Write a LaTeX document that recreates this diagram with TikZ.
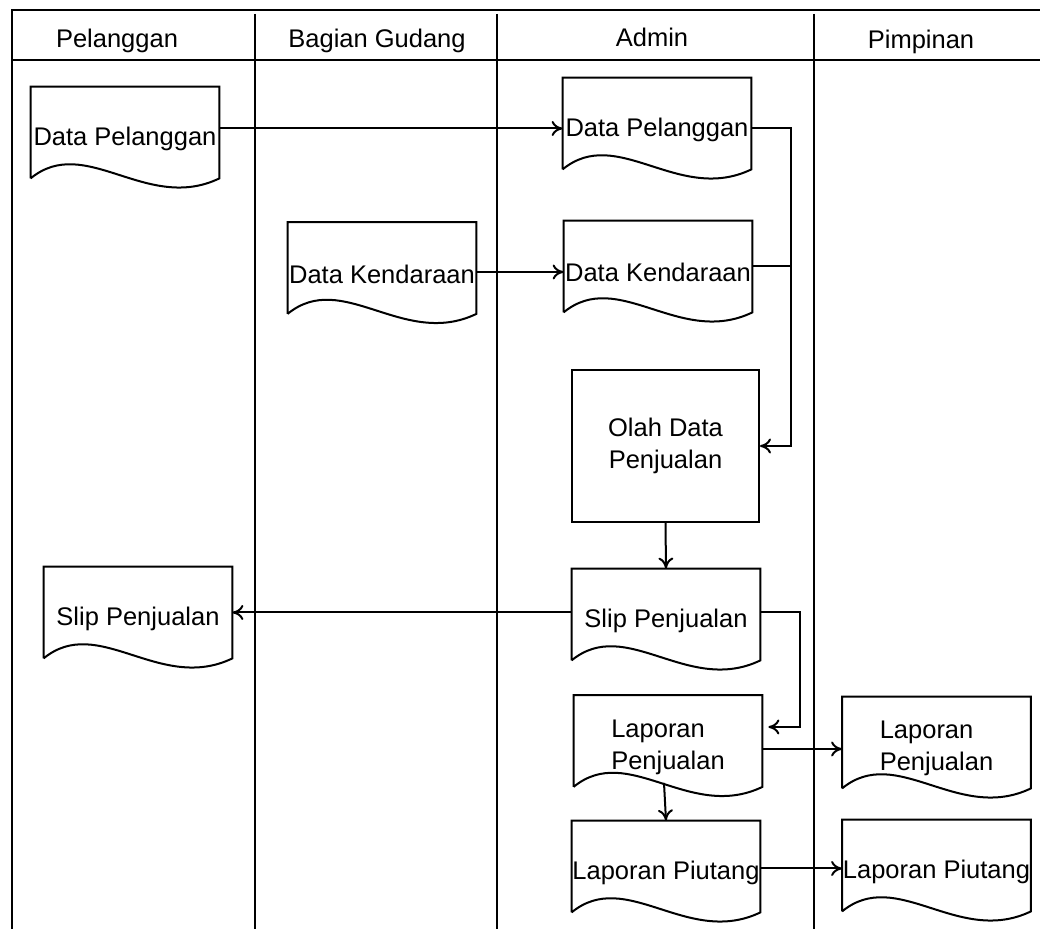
\documentclass[tikz,border=0pt]{standalone}
\usepackage{fontspec}
\setmainfont{Liberation Sans}
\usetikzlibrary{arrows.meta,calc}

\newcommand{\dokumen}[4]{%
\node[dok] (#1) at (#2,#3) {};
\node[dokteks] (#1-t) at ([yshift=-3pt]#1.center) {#4};
\draw[garis] (#1.south west) -- (#1.north west) -- (#1.north east) -- (#1.south east) .. controls ($(#1.south east)+(-73,35)$) and ($(#1.south west)+(55,-45)$) .. (#1.south west);
}

\begin{document}
\begin{tikzpicture}[x=0.5pt,y=-0.5pt,
  garis/.style={line width=1pt},
  panah/.style={line width=1pt,-{To[length=5.5pt,width=7.5pt]}},
  dok/.style={minimum width=94pt,minimum height=45.5pt,inner sep=0pt},
  dokteks/.style={inner sep=0pt,align=left,font=\fontsize{12.75}{16}\selectfont},
  proses/.style={draw,line width=1pt,minimum width=93.5pt,minimum height=76pt,inner sep=0pt,align=center,font=\fontsize{12.75}{16}\selectfont},
  judul/.style={anchor=base,font=\fontsize{12.75}{16}\selectfont}]
\useasboundingbox (0,0) rectangle (1040,929);

% kolom
\draw[garis] (1040,10) -- (12,10) -- (12,929);
\draw[garis] (12,60) -- (1040,60);
\foreach \x in {255,497,814} \draw[garis] (\x,14) -- (\x,929);

\node[judul] (hPel) at (117,48) {Pelanggan};
\node[judul] (hGud) at (377,48) {Bagian Gudang};
\node[judul] (hAdm) at (652,47) {Admin};
\node[judul] (hPim) at (921,49) {Pimpinan};

% dokumen
\dokumen{dpPel}{125}{132.5}{Data Pelanggan}
\dokumen{dpAdm}{657}{123.5}{Data Pelanggan}
\dokumen{dkGud}{382}{268}{Data Kendaraan}
\dokumen{dkAdm}{658}{266.5}{Data Kendaraan}
\node[proses] (olah) at (665.5,446) {Olah Data\\Penjualan};
\dokumen{slipAdm}{666}{614.5}{Slip Penjualan}
\dokumen{slipPel}{138}{612.5}{Slip Penjualan}
\dokumen{lpAdm}{668}{741}{Laporan\\Penjualan}
\dokumen{lpPim}{936.5}{742.5}{Laporan\\Penjualan}
\dokumen{lutAdm}{666}{866.5}{Laporan Piutang}
\dokumen{lutPim}{936.5}{865.5}{Laporan Piutang}

\coordinate (jalurA) at (791,0);
\coordinate (jalurB) at (800,0);
\coordinate (a1) at ([yshift=2pt]dpPel.east);
\coordinate (a2) at ([yshift=-2pt]dkGud.east);
\coordinate (a3) at ([yshift=-2.5pt]dpAdm.east);
\coordinate (a4) at ([yshift=1pt]slipAdm.west);
\coordinate (a5) at ([yshift=1pt]slipAdm.east);
\coordinate (a6) at ([yshift=7pt,xshift=3pt]lpAdm.east);
\coordinate (a7) at ([yshift=-4pt]lpAdm.east);
\coordinate (a8) at ([yshift=-1pt]lutAdm.east);

% alur
\draw[panah] (a1) -- (a1 -| dpAdm.west);
\draw[panah] (a2) -- (a2 -| dkAdm.west);
\draw[panah] (a3) -- (a3 -| jalurA) |- (olah.east);
\draw[garis] (dkAdm.east) -- (dkAdm.east -| jalurA);
\draw[panah] (olah.south) -- (slipAdm.north);
\draw[panah] (a4) -- (a4 -| slipPel.east);
\draw[panah] (a5) -- (a5 -| jalurB) |- (a6);
\draw[panah] (a7) -- (a7 -| lpPim.west);
\draw[panah] ([xshift=-2pt,yshift=2pt]lpAdm.south) -- (lutAdm.north);
\draw[panah] (a8) -- (a8 -| lutPim.west);

\end{tikzpicture}
\end{document}
